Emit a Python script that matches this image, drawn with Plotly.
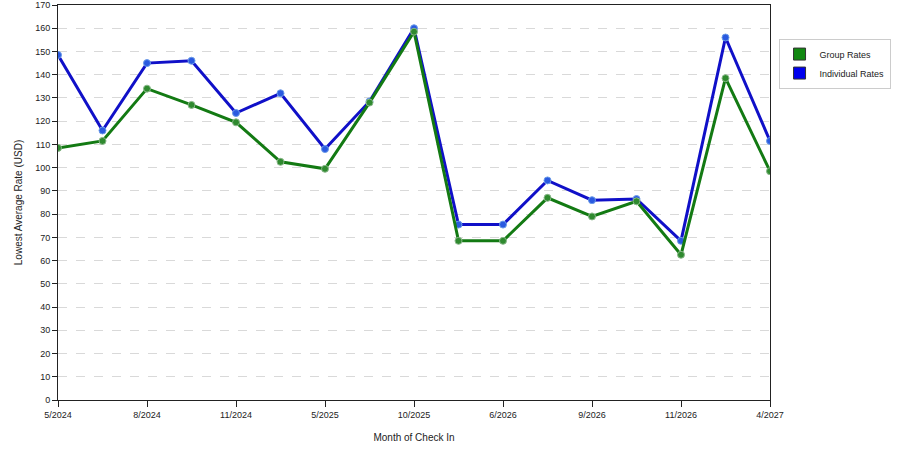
import plotly.graph_objects as go

# month of check in (every other label shown on the axis)
months = ["5/2024", "6/2024", "8/2024", "9/2024", "11/2024", "12/2024",
          "5/2025", "7/2025", "10/2025", "12/2025", "6/2026", "7/2026",
          "9/2026", "10/2026", "11/2026", "12/2026", "4/2027"]
group_rates = [108.5, 111.5, 134, 127, 119.5, 102.5, 99.5, 128, 158.5,
               68.5, 68.5, 87, 79, 85.5, 62.5, 138.5, 98.5]
individual_rates = [148.5, 116, 145, 146, 123.5, 132, 108, 128.5, 160,
                    75.5, 75.5, 94.5, 86, 86.5, 68.5, 156, 111.5]

fig = go.Figure()

# individual drawn first so group sits on top like the reference
fig.add_trace(go.Scatter(
	x=months, y=individual_rates, mode="lines+markers", showlegend=False,
	line=dict(color="#1010c8", width=3),
	marker=dict(size=7, color="#2a5ae0", line=dict(color="#6b9be8", width=1)),
))
fig.add_trace(go.Scatter(
	x=months, y=group_rates, mode="lines+markers", showlegend=False,
	line=dict(color="#137a13", width=3),
	marker=dict(size=7, color="#2f8a2f", line=dict(color="#8ab88a", width=1)),
))

# square legend keys
for name, col in [("Group Rates", "#118811"), ("Individual Rates", "#0000ee")]:
	fig.add_trace(go.Scatter(
		x=[None], y=[None], mode="markers", name=name,
		marker=dict(symbol="square", size=12, color=col, line=dict(color="#333333", width=1)),
	))

fig.update_layout(
	width=900, height=450,
	margin=dict(l=58, r=130, t=5, b=50),
	plot_bgcolor="white", paper_bgcolor="white",
	font=dict(family="Liberation Sans, Arial, sans-serif", size=9, color="#222222"),
	legend=dict(x=1.012, y=0.915, xanchor="left", yanchor="top",
				bordercolor="#cccccc", borderwidth=1, font=dict(size=9),
				tracegroupgap=4),
)
fig.update_xaxes(
	title=dict(text="Month of Check In", standoff=15, font=dict(size=10)),
	tickvals=months[::2], ticktext=months[::2],
	range=[0, len(months) - 1], automargin=False,
	showline=True, linecolor="#222222", linewidth=1, mirror=True,
	ticks="outside", ticklen=6, tickcolor="#222222",
	showgrid=False, zeroline=False,
)
fig.update_yaxes(
	title=dict(text="Lowest Average Rate (USD)", standoff=10, font=dict(size=10)),
	range=[0, 170], dtick=10, automargin=False,
	showline=True, linecolor="#222222", linewidth=1, mirror=True,
	ticks="outside", ticklen=5, tickcolor="#222222",
	gridcolor="#d9d9d9", griddash="dash", zeroline=False,
)

fig.write_html("out.html", config={"displayModeBar": False},
			   post_script="document.body.style.margin='0';")
